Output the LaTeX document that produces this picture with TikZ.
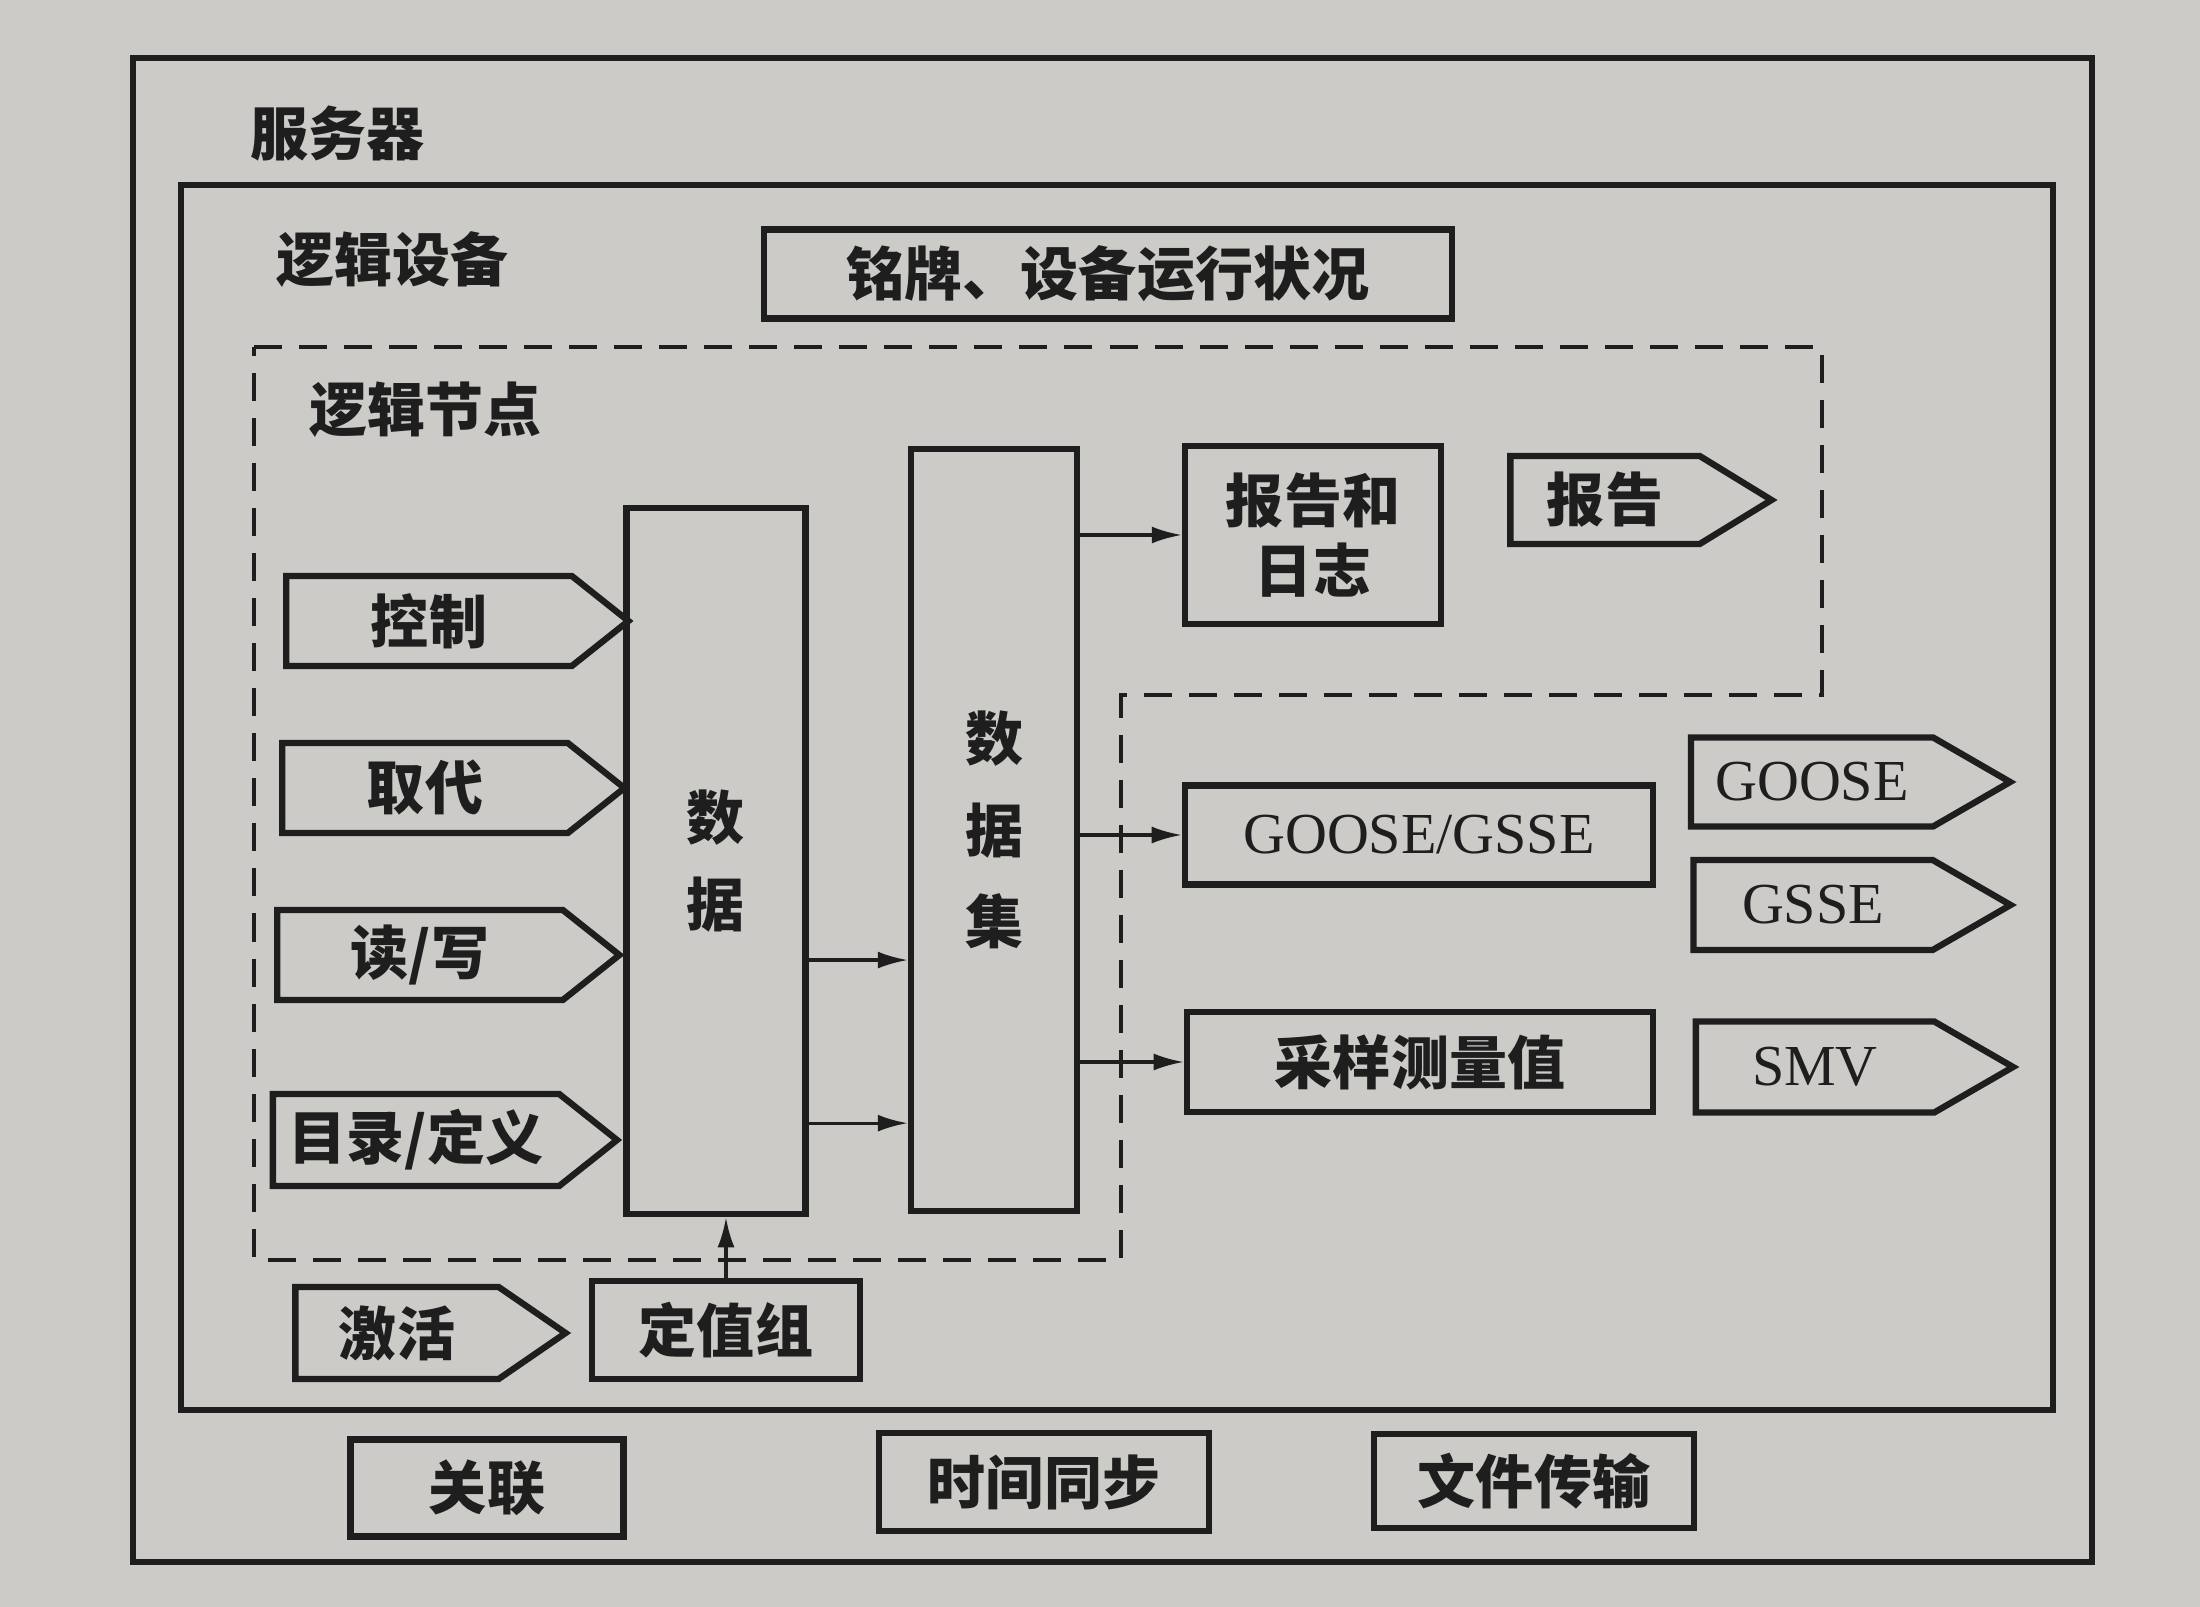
\documentclass[tikz,border=0pt]{standalone}
\usepackage{fontspec}
\setmainfont{Liberation Serif}
\newfontfamily\cjk{Noto Sans CJK SC}
\usetikzlibrary{shapes.symbols,arrows.meta,positioning}
\definecolor{paper}{RGB}{204,203,200}
\definecolor{ink}{RGB}{30,30,30}
\tikzset{
  box/.style={draw=ink, line width=1.8pt, inner sep=0pt, text=ink,
    font=\cjk\bfseries\fontsize{16.5}{20}\selectfont},
  sig/.style={box, shape=signal, signal to=east, signal pointer angle=#1},
  latin/.style={font=\fontsize{16.5}{20}\selectfont},
  lbl/.style={anchor=west, inner sep=0pt, text=ink,
    font=\cjk\bfseries\fontsize{16.5}{20}\selectfont},
  frame/.style={draw=ink, line width=1.8pt},
  lnborder/.style={draw=ink, line width=1.1pt, dash pattern=on 0.28cm off 0.17cm},
  arr/.style={draw=ink, line width=0.9pt, -{Latex[length=3mm,width=1.7mm]}}
}
\begin{document}
\begin{tikzpicture}[x=0.01cm, y=-0.01cm]
  \fill[paper] (0,0) rectangle (2200,1607);
  \useasboundingbox (0,0) rectangle (2200,1607);
  % frames
  \draw[frame] (133,58) rectangle (2092,1562);
  \draw[frame] (181,185) rectangle (2053,1410);
  \draw[lnborder] (254,347) -- (1822,347) -- (1822,695) -- (1121,695)
    -- (1121,1260) -- (254,1260) -- cycle;
  \node[lbl] (srv) at (250,133) {服务器};
  \node[lbl] (ldev) at (276,260) {逻辑设备};
  \node[lbl] (lnode) at (309,410) {逻辑节点};
  \node[box, minimum width=6.88cm, minimum height=0.89cm] (plate) at (1108,274) {铭牌、设备运行状况};
  % services into data
  \node[sig=77, minimum width=3.42cm, minimum height=0.9cm] (ctrl) at (429,621) {控制};
  \node[sig=77, minimum width=3.42cm, minimum height=0.9cm] (subst) at (425,788) {取代};
  \node[sig=77, minimum width=3.42cm, minimum height=0.9cm] (rw) at (420,955) {读/写};
  \node[sig=77, minimum width=3.44cm, minimum height=0.92cm] (dir) at (416,1140) {目录/定义};
  \node[box, minimum width=1.79cm, minimum height=7.06cm, align=center,
    font=\cjk\bfseries\fontsize{16.5}{25}\selectfont] (data) at (716,861) {数\\据};
  \node[box, minimum width=1.66cm, minimum height=7.61cm, align=center,
    font=\cjk\bfseries\fontsize{16.5}{26}\selectfont] (dset) at (994,830) {数\\据\\集};
  % outputs
  \node[box, minimum width=2.56cm, minimum height=1.78cm, align=center,
    font=\cjk\bfseries\fontsize{16.5}{20}\selectfont] (rl) at (1313,535) {报告和\\日志};
  \node[sig=63, minimum width=2.61cm, minimum height=0.88cm] (rpt) at (1605,500) {报告};
  \node[box, latin, minimum width=4.68cm, minimum height=0.99cm] (gg) at (1419,835) {GOOSE/GSSE};
  \node[sig=60, latin, minimum width=3.19cm, minimum height=0.89cm] (goose) at (1812,782) {GOOSE};
  \node[sig=60, latin, minimum width=3.17cm, minimum height=0.9cm] (gsse) at (1813,905) {GSSE};
  \node[box, minimum width=4.66cm, minimum height=1.0cm] (smp) at (1420,1062) {采样测量值};
  \node[sig=60, latin, minimum width=3.17cm, minimum height=0.91cm] (smv) at (1815,1067) {SMV};
  % setting group
  \node[sig=69, minimum width=2.7cm, minimum height=0.92cm] (act) at (397,1333) {激活};
  \node[box, minimum width=2.68cm, minimum height=0.98cm] (grp) at (726,1330) {定值组};
  % server services
  \node[box, minimum width=2.73cm, minimum height=0.97cm] (assoc) at (487,1488) {关联};
  \node[box, minimum width=3.3cm, minimum height=0.98cm] (tsync) at (1044,1482) {时间同步};
  \node[box, minimum width=3.2cm, minimum height=0.94cm] (ftrans) at (1534,1481) {文件传输};
  % connectors
  \draw[arr] ([yshift=-0.99cm]data.east) -- ([yshift=-0.99cm]data.east -| dset.west);
  \draw[arr] ([yshift=-2.62cm]data.east) -- ([yshift=-2.62cm]data.east -| dset.west);
  \draw[arr] (dset.east |- rl.west) -- (rl.west);
  \draw[arr] (dset.east |- gg.west) -- (gg.west);
  \draw[arr] (dset.east |- smp.west) -- (smp.west);
  \draw[arr] (grp.north) -- (grp.north |- data.south);
\end{tikzpicture}
\end{document}
